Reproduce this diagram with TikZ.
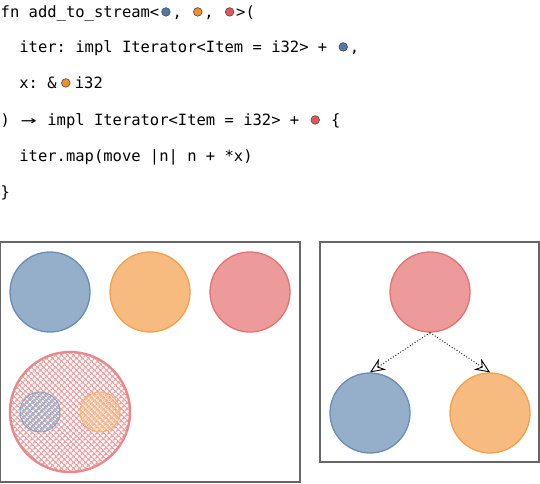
\documentclass[tikz,border=0pt]{standalone}
\usepackage{fontspec}
\setmonofont{DejaVu Sans Mono}
\usetikzlibrary{arrows.meta,patterns.meta,positioning}
\definecolor{ltblue}{HTML}{4E79A7}
\definecolor{ltorange}{HTML}{F28E2B}
\definecolor{ltred}{HTML}{E15759}
\tikzset{
  >=stealth,
  line cap=round,
  line join=round,
  codeline/.style={anchor=base west, inner sep=0pt, font=\ttfamily\fontsize{15.5}{18}\selectfont},
  region/.style={circle, minimum size=80pt, inner sep=0pt, draw=#1!85, fill=#1!60, line width=1.3pt},
  hatched/.style={circle, inner sep=0pt, draw=#1!70, pattern={Hatch[angle=45, distance=4pt, line width=1.6pt]}, pattern color=#1!55},
  panel/.style={draw=black!60, line width=1.3pt},
  outlives/.style={-{Stealth[open, length=15pt, width=13pt, inset=5pt, fill=white]}, dotted, line width=0.9pt}
}
\newcommand{\lft}[1]{\makebox[0.85em]{\tikz[baseline=-0.6ex]\draw[fill=#1, draw=black!70, line width=0.6pt] (0,0) circle (4.3pt);}}

\begin{document}
\begin{tikzpicture}[x=1pt,y=-1pt]
    \path (0,0) rectangle (540,483);

    % code
    \node[codeline] (l1) at (0.5,17)  {fn add\_to\_stream<\lft{ltblue}, \lft{ltorange}, \lft{ltred}>(};
    \node[codeline] (l2) at (0.5,52)  {\phantom{xx}iter: impl Iterator<Item = i32> + \lft{ltblue},};
    \node[codeline] (l3) at (0.5,88)  {\phantom{xx}x: \&\hspace{2.5pt}\lft{ltorange}\hspace{2.5pt}i32};
    \node[codeline] (l4) at (0.5,125) {) \makebox[1.204em]{\scalebox{1.7}[1]{→}} impl Iterator<Item = i32> + \lft{ltred} \{};
    \node[codeline] (l5) at (0.5,161) {\phantom{xx}iter.map(move |n| n + *x)};
    \node[codeline] (l6) at (0.5,197) {\}};

    % left panel
    \draw[panel] (0.8,242) rectangle (300,482);
    \node[region=ltblue]   (a) at (50,292)  {};
    \node[region=ltorange] (b) at (150,292) {};
    \node[region=ltred]    (c) at (250,292) {};

    \node[hatched=ltred, minimum size=120pt, line width=2.4pt] (outer) at (70,412) {};
    \node[hatched=ltblue, minimum size=40pt, line width=0.9pt]   (inA) at (40,412)  {};
    \node[hatched=ltorange, minimum size=40pt, line width=0.9pt] (inB) at (100,412) {};

    % right panel
    \draw[panel] (320,242) rectangle (539,462);
    \node[region=ltred]    (r)  at (430,292) {};
    \node[region=ltblue]   (rb) at (370,413) {};
    \node[region=ltorange] (ro) at (490,413) {};

    \draw[outlives] (r.south) -- (rb.north);
    \draw[outlives] (r.south) -- (ro.north);
\end{tikzpicture}
\end{document}
